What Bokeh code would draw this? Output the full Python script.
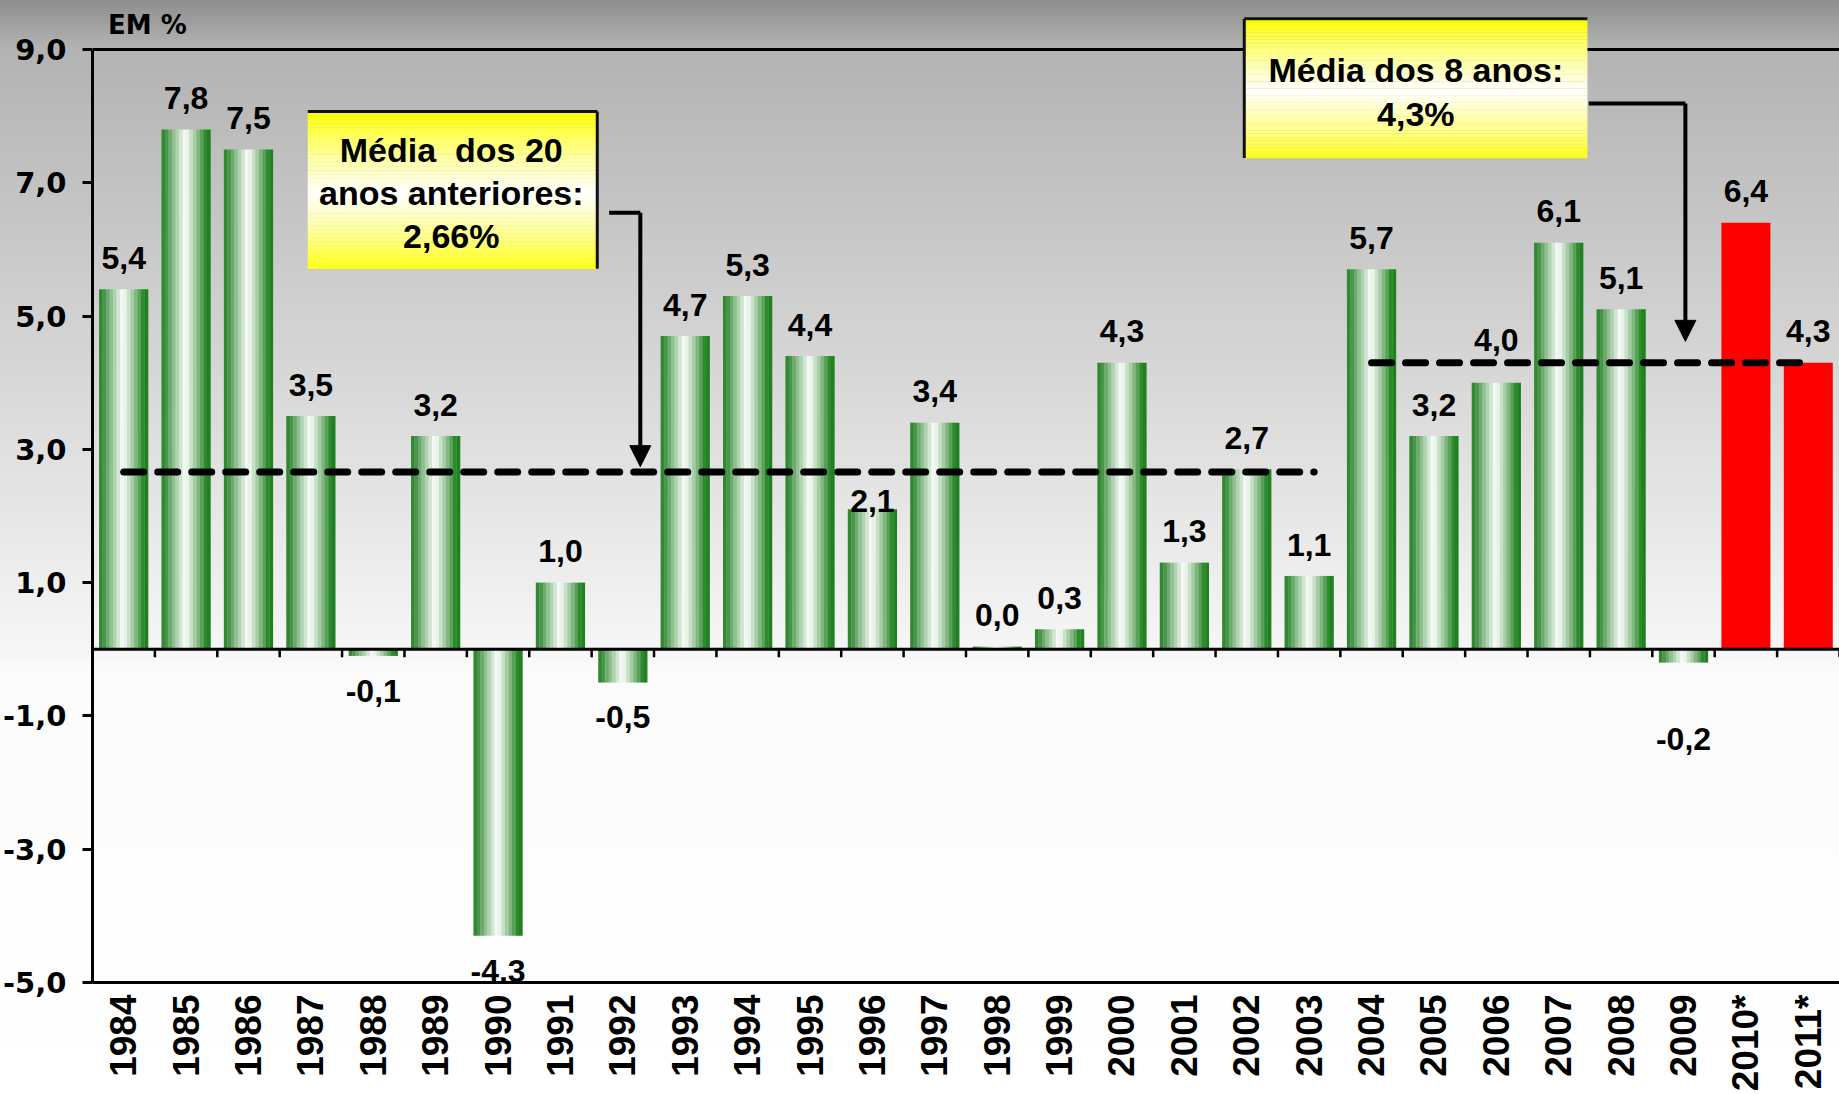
import numpy as np
from bokeh.plotting import figure
from bokeh.models import (Range1d, FixedTicker, Arrow, NormalHead, InlineStyleSheet)
from bokeh.core.properties import value
from bokeh.embed import file_html
from bokeh.resources import INLINE

# ---------------- data ----------------
years = ["1984", "1985", "1986", "1987", "1988", "1989", "1990", "1991", "1992", "1993",
         "1994", "1995", "1996", "1997", "1998", "1999", "2000", "2001", "2002", "2003",
         "2004", "2005", "2006", "2007", "2008", "2009", "2010*", "2011*"]
growth = [5.4, 7.8, 7.5, 3.5, -0.1, 3.2, -4.3, 1.0, -0.5, 4.7,
          5.3, 4.4, 2.1, 3.4, 0.04, 0.3, 4.3, 1.3, 2.7, 1.1,
          5.7, 3.2, 4.0, 6.1, 5.1, -0.2, 6.4, 4.3]
avg_20 = 2.66   # média 1984-2003
avg_8 = 4.3     # média 2004-2011
y_ticks = [-5.0, -3.0, -1.0, 1.0, 3.0, 5.0, 7.0, 9.0]
unit_label = "EM %"
box1_lines = ["Média\u00a0 dos 20", "anos anteriores:", "2,66%"]
box2_lines = ["Média dos 8 anos:", "4,3%"]

# ---------------- layout / style ----------------
FONT = "Liberation Sans"
TICK_FONT = "DejaVu Sans"
W, H = 1839, 1094
YMIN, YMAX = -5.0, 9.734
BW = 0.785
n = len(years)
cx = np.arange(n) + 0.5
fmt = lambda v: f"{v:.1f}".replace(".", ",")

p = figure(width=W, height=H, x_range=Range1d(0, n), y_range=Range1d(YMIN, YMAX),
           output_backend="svg", toolbar_location=None,
           min_border_left=92, min_border_right=0, min_border_top=0, min_border_bottom=110)
p.background_fill_color = None
p.border_fill_color = None
p.outline_line_color = None
p.xgrid.visible = False
p.ygrid.visible = False
p.stylesheets = [InlineStyleSheet(css=":host { background: linear-gradient(to bottom, #8e8e8e 0px, #b3b3b3 49px, #c2c2c2 184px, #f6f6f6 651px, #fbfbfb 668px, #ffffff 1094px); }")]

# ----- bars: green cylinders made of vertical strips, projections in red -----
NS = 14
t = (np.arange(NS) + 0.5) / NS
white = np.clip(1 - np.abs(t - 0.49) / 0.42, 0, 1) ** 0.9
gl = np.array([52, 136, 52]); gr = np.array([30, 130, 30])
base = gl[None, :] * (1 - t[:, None]) + gr[None, :] * t[:, None]
cols = base * (1 - white[:, None]) + 255 * white[:, None]
strip_cols = ['#%02x%02x%02x' % tuple(int(round(c)) for c in row) for row in cols]

sx, st, sc = [], [], []
rx, rt = [], []
for i, (lab, v) in enumerate(zip(years, growth)):
    if lab.endswith("*"):
        rx.append(cx[i]); rt.append(v)
        continue
    for k in range(NS):
        sx.append(cx[i] - BW / 2 + (k + 0.5) * BW / NS)
        st.append(v)
        sc.append(strip_cols[k])
p.vbar(x=sx, top=st, bottom=0, width=BW / NS * 1.08, fill_color=sc, line_color=None)
p.vbar(x=rx, top=rt, bottom=0, width=BW, fill_color="#ff0000", line_color=None)

# zero line with boundary ticks, and top line at 9,0
p.segment(x0=[0], y0=[0], x1=[n], y1=[0], line_color="black", line_width=3)
bnd = np.arange(1, n + 1)
p.segment(x0=bnd, y0=np.zeros(n), x1=bnd, y1=np.full(n, -0.12), line_color="black", line_width=2.5)
p.segment(x0=[0], y0=[y_ticks[-1]], x1=[n], y1=[y_ticks[-1]], line_color="black", line_width=3)

# average dashed lines
p.line([cx[0], cx[19] + 0.08], [avg_20, avg_20], line_color="black", line_width=7,
       line_dash="20 14", line_cap="round")
p.line([cx[20], cx[27] - 0.05], [avg_8, avg_8], line_color="black", line_width=7,
       line_dash="20 14", line_cap="round")

# value labels
nudge = {"1996": -0.34, "2006": 0.17, "2009": -0.62}
ly = []
for lab, v in zip(years, growth):
    y = v + 0.47 if v >= 0 else v - 0.52
    ly.append(y + nudge.get(lab, 0))
p.text(x=cx, y=ly, text=[fmt(v) for v in growth], text_font=value(FONT), text_font_style="bold",
       text_font_size="32px", text_align="center", text_baseline="middle", text_color="black")

# ----- yellow note boxes -----
def note_box(x0, x1, y0, y1, edges):
    NB = 40
    tb = (np.arange(NB) + 0.5) / NB
    w = np.clip(1 - np.abs(tb - 0.52) / 0.5, 0, 1) ** 0.8
    c = ['#ffff%02x' % int(round(255 * a)) for a in w]
    h = (y1 - y0) / NB
    tops = y1 - np.arange(NB) * h
    p.quad(left=x0, right=x1, top=tops, bottom=tops - h * 1.05, fill_color=c, line_color=None)
    xs, ys = [], []
    if "top" in edges:
        xs.append([x0, x1]); ys.append([y1, y1])
    if "right" in edges:
        xs.append([x1, x1]); ys.append([y1, y0])
    if "left" in edges:
        xs.append([x0, x0]); ys.append([y1, y0])
    p.multi_line(xs, ys, line_color="#111111", line_width=3)

note_box(3.45, 8.09, 5.71, 8.07, ("top", "right"))
note_box(18.46, 23.96, 7.37, 9.46, ("top", "left"))

p.text(x=[5.75] * 3, y=[7.488, 6.844, 6.20], text=box1_lines, text_font=value(FONT),
       text_font_style="bold", text_font_size="34px", text_align="center", text_baseline="middle")
p.text(x=[21.21] * 2, y=[8.686, 8.027], text=box2_lines, text_font=value(FONT),
       text_font_style="bold", text_font_size="34px", text_align="center", text_baseline="middle")

# arrows
p.line([8.28, 8.78], [6.55, 6.55], line_color="black", line_width=4)
p.add_layout(Arrow(x_start=8.78, y_start=6.55, x_end=8.78, y_end=avg_20 + 0.08, line_width=4,
                   end=NormalHead(size=21, fill_color="black", line_color="black")))
p.line([23.98, 25.53], [8.19, 8.19], line_color="black", line_width=4)
p.add_layout(Arrow(x_start=25.53, y_start=8.19, x_end=25.53, y_end=avg_8 + 0.32, line_width=4,
                   end=NormalHead(size=21, fill_color="black", line_color="black")))

# unit label
p.text(x=[0.25], y=[9.36], text=[unit_label], text_font=value(TICK_FONT), text_font_style="bold",
       text_font_size="26px", text_align="left", text_baseline="middle")

# ----- axes -----
ya = p.yaxis[0]
ya.ticker = FixedTicker(ticks=y_ticks)
ya.major_label_overrides = {t_: fmt(t_) for t_ in y_ticks}
ya.bounds = (y_ticks[0], y_ticks[-1])
ya.axis_line_width = 3
ya.axis_line_color = "black"
ya.major_tick_out = 10
ya.major_tick_in = 0
ya.major_tick_line_width = 3
ya.minor_tick_line_color = None
ya.major_label_standoff = 16
ya.major_label_text_font = TICK_FONT
ya.major_label_text_font_style = "bold"
ya.major_label_text_font_size = "29px"
ya.major_label_text_color = "black"

xa = p.xaxis[0]
xa.ticker = FixedTicker(ticks=[float(c) for c in cx])
xa.major_label_overrides = {float(c): lab for c, lab in zip(cx, years)}
xa.major_label_orientation = np.pi / 2
xa.axis_line_width = 3
xa.axis_line_color = "black"
xa.major_tick_out = 0
xa.major_tick_in = 0
xa.minor_tick_line_color = None
xa.major_label_standoff = 12
xa.major_label_text_font = FONT
xa.major_label_text_font_style = "bold"
xa.major_label_text_font_size = "37px"
xa.major_label_text_color = "black"

open("out.html", "w").write(file_html(p, INLINE))
